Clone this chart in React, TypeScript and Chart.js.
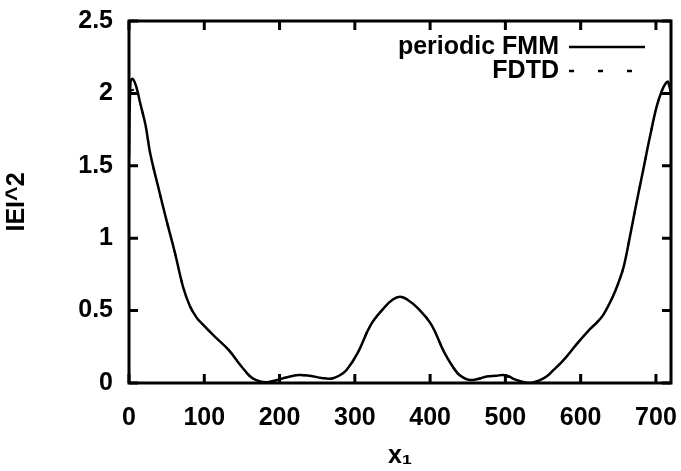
import React, { useEffect, useRef } from "react";
import { Chart, registerables } from "chart.js";

Chart.register(...registerables);

// Position along the period (x1) and |E|^2 for the periodic FMM result
const xFMM = [0, 2, 5, 10, 15, 22, 28, 39, 50, 61, 72, 81, 90, 97, 114, 132, 150, 160, 167, 181, 196, 210, 225, 240, 256, 268, 279, 289, 304, 321, 339, 350, 360, 370, 385, 402, 419, 436, 445, 453, 465, 475, 488, 497, 505, 510, 520, 533, 546, 556, 564, 572, 581, 595, 612, 622, 630, 643, 650, 657, 665, 674, 683, 692, 701, 708, 713, 716, 720];
const yFMM = [1.55, 2.08, 2.1, 2.04, 1.93, 1.78, 1.59, 1.35, 1.12, 0.9, 0.66, 0.53, 0.45, 0.41, 0.32, 0.23, 0.11, 0.05, 0.025, 0.005, 0.02, 0.04, 0.055, 0.05, 0.035, 0.03, 0.05, 0.09, 0.21, 0.4, 0.52, 0.575, 0.595, 0.575, 0.51, 0.4, 0.21, 0.07, 0.035, 0.02, 0.03, 0.045, 0.05, 0.055, 0.045, 0.03, 0.012, 0.0, 0.02, 0.05, 0.09, 0.13, 0.18, 0.27, 0.37, 0.42, 0.47, 0.6, 0.69, 0.8, 1.0, 1.24, 1.47, 1.7, 1.91, 2.02, 2.07, 2.08, 2.0];
// FDTD result
const xFDTD = [0, 12, 15, 22, 28, 39, 50, 61, 72, 81, 90, 97, 114, 132, 150, 160, 167, 181, 196, 210, 225, 240, 256, 268, 279, 289, 304, 321, 339, 350, 360, 370, 385, 402, 419, 436, 445, 453, 465, 475, 488, 497, 505, 510, 520, 533, 546, 556, 564, 572, 581, 595, 612, 622, 630, 643, 650, 657, 665, 674, 683, 692, 701, 708, 720];
const yFDTD = [2.02, 2.02, 1.93, 1.78, 1.59, 1.35, 1.12, 0.9, 0.66, 0.53, 0.45, 0.41, 0.32, 0.23, 0.11, 0.05, 0.025, 0.005, 0.02, 0.04, 0.055, 0.05, 0.035, 0.03, 0.05, 0.09, 0.21, 0.4, 0.52, 0.575, 0.595, 0.575, 0.51, 0.4, 0.21, 0.07, 0.035, 0.02, 0.03, 0.045, 0.05, 0.055, 0.04, 0.025, 0.01, 0.0, 0.02, 0.05, 0.09, 0.13, 0.18, 0.27, 0.37, 0.42, 0.47, 0.6, 0.69, 0.8, 1.0, 1.24, 1.47, 1.7, 1.91, 1.99, 1.99];

const xTicks = [0, 100, 200, 300, 400, 500, 600, 700];
const yTicks = [0, 0.5, 1, 1.5, 2, 2.5];
const yTickLabels = ["0", "0.5", "1", "1.5", "2", "2.5"];
const seriesLabels = ["periodic FMM", "FDTD"];
const xTitle = "x\u2081";
const yTitle = "IEI^2";

const FONT = "'Liberation Sans', Arial, sans-serif";

const framePlugin = {
  id: "gnuplotFrame",
  afterDatasetsDraw(chart: any) {
    const { ctx, chartArea: a, scales } = chart;
    const xs = scales.x;
    const ys = scales.y;
    ctx.save();
    ctx.strokeStyle = "#000";
    ctx.lineWidth = 3;
    ctx.lineCap = "butt";
    ctx.strokeRect(a.left, a.top, a.right - a.left, a.bottom - a.top);
    const tl = 9;
    ctx.beginPath();
    xTicks.forEach((v) => {
      const px = xs.getPixelForValue(v);
      ctx.moveTo(px, a.bottom);
      ctx.lineTo(px, a.bottom - tl);
      ctx.moveTo(px, a.top);
      ctx.lineTo(px, a.top + tl);
    });
    yTicks.forEach((v) => {
      const py = ys.getPixelForValue(v);
      ctx.moveTo(a.left, py);
      ctx.lineTo(a.left + tl, py);
      ctx.moveTo(a.right, py);
      ctx.lineTo(a.right - tl, py);
    });
    ctx.stroke();

    // legend (gnuplot style: text then sample, top-right)
    ctx.font = `bold 25px ${FONT}`;
    ctx.fillStyle = "#000";
    ctx.textAlign = "right";
    ctx.textBaseline = "middle";
    const textRight = a.right - 112;
    const rows = [a.top + 26, a.top + 50];
    chart.data.datasets.forEach((ds: any, i: number) => {
      const y = rows[i];
      ctx.fillText(ds.label, textRight, y);
      ctx.save();
      ctx.lineWidth = 2.5;
      ctx.setLineDash(ds.borderDash || []);
      ctx.beginPath();
      ctx.moveTo(textRight + 10, y);
      ctx.lineTo(textRight + 86, y);
      ctx.stroke();
      ctx.restore();
    });
    ctx.restore();
  },
};

export default function App() {
  const ref = useRef<HTMLCanvasElement>(null);
  useEffect(() => {
    document.body.style.margin = "0";
    const canvas = ref.current!;
    const chart = new Chart(canvas, {
      type: "line",
      data: {
        datasets: [
          {
            label: seriesLabels[0],
            data: xFMM.map((x, i) => ({ x, y: yFMM[i] })),
            borderColor: "#000",
            borderWidth: 2.5,
            pointRadius: 0,
            tension: 0.4,
            fill: false,
          },
          {
            label: seriesLabels[1],
            data: xFDTD.map((x, i) => ({ x, y: yFDTD[i] })),
            borderColor: "#000",
            borderWidth: 2,
            borderDash: [5, 24],
            pointRadius: 0,
            tension: 0.4,
            fill: false,
          },
        ],
      },
      options: {
        responsive: false,
        animation: false,
        layout: { padding: { top: 21, right: 10, left: 0, bottom: 0 } },
        plugins: { legend: { display: false }, tooltip: { enabled: false } },
        scales: {
          x: {
            type: "linear",
            min: 0,
            max: 720,
            afterBuildTicks: (s: any) => {
              s.ticks = xTicks.map((v) => ({ value: v }));
            },
            afterFit: (s: any) => {
              s.height = 88;
              s.paddingLeft = 0;
              s.paddingRight = 0;
            },
            grid: { display: false, drawTicks: false },
            border: { display: false },
            ticks: {
              color: "#000",
              font: { family: FONT, size: 25, weight: "bold" },
              padding: 20,
              maxRotation: 0,
              autoSkip: false,
            },
            title: {
              display: true,
              text: xTitle,
              color: "#000",
              font: { family: FONT, size: 25, weight: "bold" },
              padding: { top: 8, bottom: 0 },
            },
          },
          y: {
            type: "linear",
            min: 0,
            max: 2.5,
            afterBuildTicks: (s: any) => {
              s.ticks = yTicks.map((v) => ({ value: v }));
            },
            afterFit: (s: any) => {
              s.width = 129;
              s.paddingTop = 0;
              s.paddingBottom = 0;
            },
            grid: { display: false, drawTicks: false },
            border: { display: false },
            ticks: {
              color: "#000",
              font: { family: FONT, size: 25, weight: "bold" },
              padding: 16,
              callback: (_v: any, i: number) => yTickLabels[i],
            },
            title: {
              display: true,
              text: yTitle,
              color: "#000",
              font: { family: FONT, size: 25, weight: "bold" },
              padding: { top: 2, bottom: 0 },
            },
          },
        },
      },
      plugins: [framePlugin],
    });
    return () => chart.destroy();
  }, []);
  return (
    <div style={{ width: 681, height: 471, background: "#fff", overflow: "hidden" }}>
      <canvas ref={ref} width={681} height={471} style={{ display: "block" }} />
    </div>
  );
}
